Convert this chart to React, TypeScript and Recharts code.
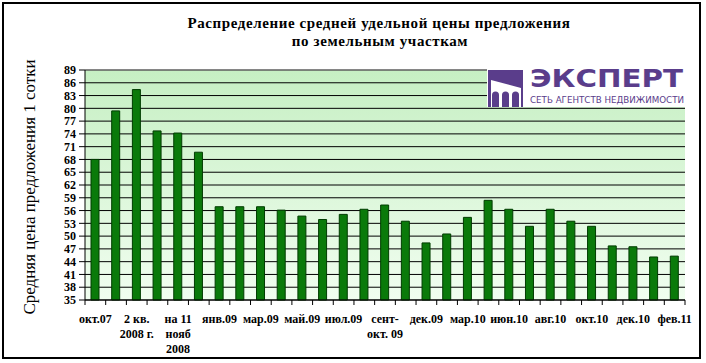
import React from 'react';
import { BarChart, Bar, XAxis, YAxis, CartesianGrid, ReferenceLine } from 'recharts';

// periods (only every second one is labelled on the axis)
const periods = [
  'окт.07', '1 кв.\n2008 г.', '2 кв.\n2008 г.', '3 кв.\n2008 г.', 'на 11\nнояб\n2008', 'дек.08',
  'янв.09', 'фев.09', 'мар.09', 'апр.09', 'май.09', 'июн.09', 'июл.09', 'авг.09',
  'сент-\nокт. 09', 'ноя.09', 'дек.09', 'янв-фев.10', 'мар.10', 'апр-май.10', 'июн.10',
  'июл.10', 'авг.10', 'сен.10', 'окт.10', 'ноя.10', 'дек.10', 'янв.11', 'фев.11',
];

// average price of 1 sotka
const prices = [
  68, 79.4, 84.4, 74.7, 74.2, 69.7, 56.9, 56.9, 56.9, 56.1, 54.7, 53.9, 55.1, 56.3,
  57.3, 53.5, 48.4, 50.5, 54.4, 58.4, 56.3, 52.3, 56.3, 53.5, 52.3, 47.7, 47.5, 45.1, 45.3,
];

const yTicks = [35, 38, 41, 44, 47, 50, 53, 56, 59, 62, 65, 68, 71, 74, 77, 80, 83, 86, 89];

const title = ['Распределение средней удельной цены предложения', 'по земельным участкам'];
const yTitle = 'Средняя цена предложения 1 сотки';

const data = periods.map((p, i) => ({ period: p, price: prices[i] }));

const SERIF = '"Liberation Serif", "Times New Roman", serif';
const PURPLE = '#5a3d8b';

const XTick = (props: any) => {
  const { x, y, payload } = props;
  const index = props.index ?? payload.index;
  const half = payload.offset || 10.35;
  const lines = String(payload.value).split('\n');
  return (
    <g>
      <line x1={x - half} x2={x - half} y1={y} y2={y + 5} stroke="#000" />
      {index === periods.length - 1 && <line x1={x + half} x2={x + half} y1={y} y2={y + 5} stroke="#000" />}
      {index % 2 === 0 && (
        <text x={x} y={y + 23} textAnchor="middle" fontFamily={SERIF} fontWeight="bold" fontSize={12} fill="#000">
          {lines.map((l, i) => (
            <tspan key={i} x={x} dy={i === 0 ? 0 : 15}>{l}</tspan>
          ))}
        </text>
      )}
    </g>
  );
};

const App: React.FC = () => {
  return (
    <div style={{ position: 'absolute', left: 0, top: 0, width: 706, height: 363, background: '#fff' }}>
      <BarChart width={706} height={363} data={data} margin={{ top: 70, right: 21, bottom: 3, left: 25 }} barSize={8}>
        <defs>
          <linearGradient id="plotBg" x1="0" y1="0" x2="0" y2="1">
            <stop offset="0%" stopColor="#c6efc3" />
            <stop offset="100%" stopColor="#f1fef0" />
          </linearGradient>
        </defs>
        <CartesianGrid vertical={false} stroke="#000" fill="url(#plotBg)" fillOpacity={1} />
        <XAxis
          dataKey="period"
          interval={0}
          height={60}
          tickLine={false}
          tickSize={0}
          tickMargin={0}
          axisLine={{ stroke: '#000' }}
          tick={<XTick />}
        />
        <YAxis
          domain={[35, 89]}
          ticks={yTicks}
          interval={0}
          width={60}
          tickSize={6}
          tickMargin={3}
          axisLine={{ stroke: '#000' }}
          tickLine={{ stroke: '#000' }}
          tick={{ fontFamily: SERIF, fontWeight: 'bold', fontSize: 12, fill: '#000' }}
        />
        <YAxis yAxisId="frame" orientation="right" domain={[35, 89]} width={0} tick={false} tickLine={false} axisLine={{ stroke: '#8c8c8c' }} />
        <ReferenceLine y={89} stroke="#8c8c8c" />
        <Bar dataKey="price" fill="#0a7a0a" stroke="#013c01" strokeWidth={1} isAnimationActive={false} />
      </BarChart>
      <svg width={706} height={363} style={{ position: 'absolute', left: 0, top: 0, pointerEvents: 'none' }}>
        <rect x={3} y={3} width={697} height={355} fill="none" stroke="#000" strokeWidth={2} />
        <text x={379} y={28} textAnchor="middle" fontFamily={SERIF} fontWeight="bold" fontSize={15} letterSpacing={0.6} fill="#000">{title[0]}</text>
        <text x={380} y={46} textAnchor="middle" fontFamily={SERIF} fontWeight="bold" fontSize={15} letterSpacing={0.6} fill="#000">{title[1]}</text>
        <text x={35} y={187} transform="rotate(-90 35 187)" textAnchor="middle" fontFamily={SERIF} fontSize={17} fill="#000">{yTitle}</text>
        {/* logo */}
        <rect x={487} y={66} width={199} height={41} fill="#fff" />
        <rect x={488} y={70} width={35} height={37} fill={PURPLE} />
        <polygon points="491,80 521,88 521,107 491,107" fill="#fff" />
        <path d="M492,107 V95 a3.5,3.5 0 0 1 7,0 V107 Z" fill={PURPLE} />
        <path d="M502,107 V95 a3.5,3.5 0 0 1 7,0 V107 Z" fill={PURPLE} />
        <path d="M512,107 V95 a3.5,3.5 0 0 1 7,0 V107 Z" fill={PURPLE} />
        <text x={530} y={87} textLength={153} lengthAdjust="spacingAndGlyphs" fontFamily='"DejaVu Sans", sans-serif' fontWeight="bold" fontSize={25} fill={PURPLE}>ЭКСПЕРТ</text>
        <text x={530} y={103} textLength={154} lengthAdjust="spacingAndGlyphs" fontFamily='"DejaVu Sans", sans-serif' fontSize={9} fill={PURPLE}>СЕТЬ АГЕНТСТВ НЕДВИЖИМОСТИ</text>
      </svg>
    </div>
  );
};

export default App;
